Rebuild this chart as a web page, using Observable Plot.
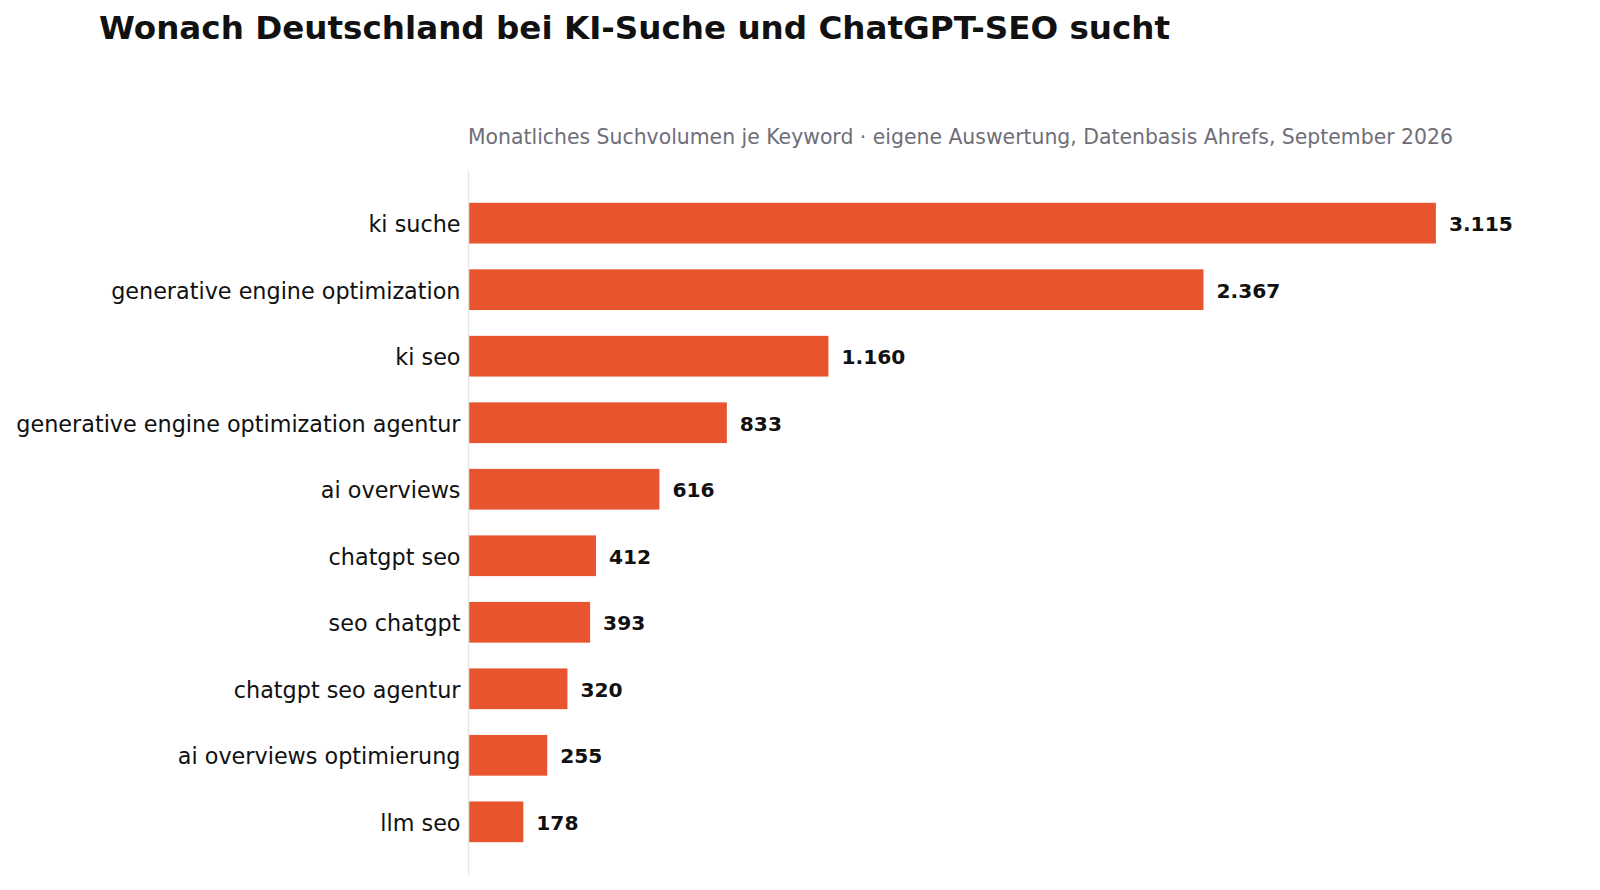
<!DOCTYPE html>
<html>
<head>
<meta charset="utf-8">
<script src="https://cdn.jsdelivr.net/npm/d3@7"></script>
<script src="https://cdn.jsdelivr.net/npm/@observablehq/plot@0.6"></script>
<style>
  html, body { margin: 0; padding: 0; background: #fff; }
  body { width: 1600px; height: 890px; position: relative; overflow: hidden; font-family: "DejaVu Sans", sans-serif; }
  #title { position: absolute; left: 99px; top: 9px; margin: 0; font-size: 32.6px; font-weight: bold; color: #111; white-space: nowrap; }
  #subtitle { position: absolute; left: 468px; top: 124.5px; margin: 0; font-size: 20.4px; color: #6e6e78; white-space: nowrap; }
  #chart { position: absolute; left: 0; top: 160px; }
</style>
</head>
<body>
<h1 id="title">Wonach Deutschland bei KI-Suche und ChatGPT-SEO sucht</h1>
<p id="subtitle">Monatliches Suchvolumen je Keyword · eigene Auswertung, Datenbasis Ahrefs, September 2026</p>
<div id="chart"></div>
<script>
const keywords = [
  "ki suche",
  "generative engine optimization",
  "ki seo",
  "generative engine optimization agentur",
  "ai overviews",
  "chatgpt seo",
  "seo chatgpt",
  "chatgpt seo agentur",
  "ai overviews optimierung",
  "llm seo"
];
const volumes = [3115, 2367, 1160, 833, 616, 412, 393, 320, 255, 178];
const valueLabels = ["3.115", "2.367", "1.160", "833", "616", "412", "393", "320", "255", "178"];

const data = keywords.map((k, i) => ({keyword: k, volume: volumes[i], label: valueLabels[i]}));

const chart = Plot.plot({
  width: 1600,
  height: 730,
  marginLeft: 468,
  marginRight: 44.5,
  marginTop: 11,
  marginBottom: 15,
  style: {fontFamily: "DejaVu Sans, sans-serif", fontSize: "22.3px", color: "#111", background: "#fff"},
  x: {domain: [0, 3500], axis: null},
  y: {domain: keywords, padding: 0.388, round: false, insetTop: 6, insetBottom: 7, axis: null},
  marks: [
    Plot.barX(data, {x: "volume", y: "keyword", fill: "#e8542e"}),
    Plot.axisY({tickSize: 0, tickPadding: 8, label: null, dy: 1.5, fill: "#111"}),
    Plot.ruleX([0], {stroke: "#e6e6e6", strokeWidth: 1.5}),
    Plot.text(data, {x: "volume", y: "keyword", text: "label", textAnchor: "start", dx: 12.5, dy: 1, fontWeight: "bold", fontSize: 20.2, fill: "#111"})
  ]
});
document.getElementById("chart").appendChild(chart);
</script>
</body>
</html>
